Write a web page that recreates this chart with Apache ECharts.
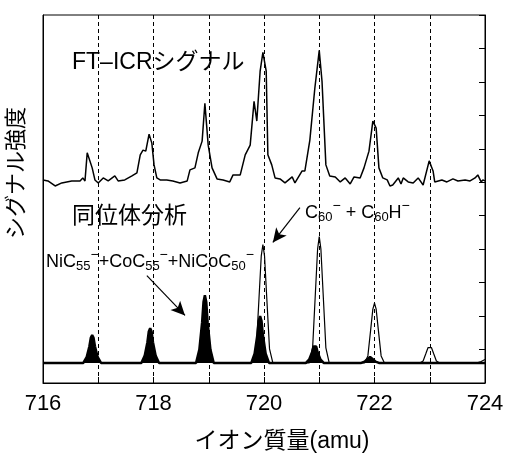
<!DOCTYPE html>
<html lang="ja">
<head>
<meta charset="UTF-8">
<title>シグナル強度</title>
<style>
html, body { margin: 0; padding: 0; background: #fff; }
#chart { width: 507px; height: 458px; }
</style>
</head>
<body>
<div id="chart"></div>
<script src="https://cdn.jsdelivr.net/npm/echarts@6/dist/echarts.min.js"></script>
<script>
// FT-ICR measured signal (x: amu, y: arbitrary units)
var ftSignal = [
  [716.00, 6.07], [716.09, 6.04], [716.22, 5.89], [716.34, 5.98], [716.52, 6.04], [716.67, 6.04],
  [716.72, 6.13], [716.76, 6.04], [716.80, 6.88], [716.83, 6.93], [716.89, 6.43], [716.94, 6.07],
  [717.00, 5.98], [717.09, 6.13], [717.18, 6.04], [717.30, 6.19], [717.36, 6.04], [717.48, 6.07],
  [717.61, 6.19], [717.70, 6.28], [717.76, 6.82], [717.81, 6.96], [717.86, 6.93], [717.92, 7.44],
  [717.97, 7.17], [718.01, 6.52], [718.06, 6.13], [718.12, 6.07], [718.24, 6.07], [718.35, 6.04],
  [718.48, 5.98], [718.61, 6.04], [718.66, 6.37], [718.75, 6.43], [718.81, 6.88], [718.88, 7.23],
  [718.93, 8.36], [718.99, 7.11], [719.06, 6.43], [719.15, 6.10], [719.26, 6.07], [719.38, 6.01],
  [719.44, 6.22], [719.57, 6.22], [719.66, 6.82], [719.75, 7.11], [719.82, 8.42], [719.87, 7.83],
  [719.93, 9.32], [719.98, 9.88], [720.04, 9.32], [720.07, 6.82], [720.14, 6.52], [720.20, 6.13],
  [720.29, 6.10], [720.38, 5.98], [720.51, 6.16], [720.56, 5.98], [720.69, 6.34], [720.74, 6.34],
  [720.83, 7.26], [720.92, 8.81], [721.00, 9.94], [721.05, 9.02], [721.12, 6.52], [721.19, 6.19],
  [721.29, 6.16], [721.38, 6.01], [721.47, 6.13], [721.56, 5.95], [721.63, 6.16], [721.74, 6.13],
  [721.81, 6.43], [721.90, 6.93], [721.97, 7.83], [722.03, 7.62], [722.08, 6.43], [722.15, 6.13],
  [722.23, 6.07], [722.28, 5.89], [722.33, 5.92], [722.43, 6.13], [722.48, 5.95], [722.52, 6.13],
  [722.61, 6.01], [722.70, 5.98], [722.79, 6.13], [722.88, 5.92], [722.99, 6.64], [723.06, 6.34],
  [723.09, 6.01], [723.22, 6.07], [723.31, 6.01], [723.42, 6.10], [723.51, 6.04], [723.64, 6.07],
  [723.73, 6.04], [723.82, 6.13], [723.87, 6.22], [723.93, 6.01], [723.96, 6.07], [724.00, 6.04]
];

// isotope analysis: NiC55- + CoC55- + NiCoC50- (filled black)
var isoMetal = [
  [716.00, 0.6],
  [716.73, 0.6], [716.79, 0.77], [716.84, 1.10], [716.865, 1.35], [716.89, 1.43], [716.915, 1.35], [716.94, 1.10], [716.99, 0.77], [717.05, 0.6],
  [717.78, 0.6], [717.84, 0.81], [717.89, 1.22], [717.915, 1.54], [717.94, 1.64], [717.965, 1.54], [717.99, 1.22], [718.04, 0.81], [718.10, 0.6],
  [718.77, 0.6], [718.83, 1.00], [718.88, 1.81], [718.905, 2.42], [718.93, 2.62], [718.955, 2.42], [718.98, 1.81], [719.03, 1.00], [719.09, 0.6],
  [719.77, 0.6], [719.83, 0.88], [719.88, 1.44], [719.905, 1.86], [719.93, 2.00], [719.955, 1.86], [719.98, 1.44], [720.03, 0.88], [720.09, 0.6],
  [720.76, 0.6], [720.82, 0.71], [720.87, 0.92], [720.895, 1.09], [720.92, 1.14], [720.945, 1.09], [720.97, 0.92], [721.02, 0.71], [721.08, 0.6],
  [721.76, 0.6], [721.82, 0.64], [721.87, 0.71], [721.895, 0.76], [721.92, 0.78], [721.945, 0.76], [721.97, 0.71], [722.02, 0.64], [722.08, 0.6],
  [724.00, 0.6]
];

// isotope analysis: C60- + C60H- (outline)
var isoC60 = [
  [719.80, 0.6], [719.86, 1.02], [719.91, 2.55], [719.95, 3.79], [719.98, 4.14], [720.01, 3.79], [720.05, 2.55], [720.10, 1.02], [720.16, 0.6],
  [720.82, 0.6], [720.88, 1.05], [720.93, 2.68], [720.97, 4.00], [721.00, 4.38], [721.03, 4.00], [721.07, 2.68], [721.12, 1.05], [721.18, 0.6],
  [721.82, 0.6], [721.88, 0.81], [721.93, 1.58], [721.97, 2.21], [722.00, 2.39], [722.03, 2.21], [722.07, 1.58], [722.12, 0.81], [722.18, 0.6],
  [722.82, 0.6], [722.88, 0.66], [722.93, 0.88], [722.97, 1.06], [723.00, 1.11], [723.03, 1.06], [723.07, 0.88], [723.12, 0.66], [723.18, 0.6],
  [723.86, 0.6], [723.93, 0.64], [724.00, 0.70]
];

var guideLines = [717, 718, 719, 720, 721, 722, 723];
var baseLevel = 0.6;

var font = 'Liberation Sans, Arial, "Noto Sans CJK JP", sans-serif';
var chart = echarts.init(document.getElementById('chart'));

var subSup = {
  s: { fontSize: 13, fontFamily: font, fill: '#000', padding: [9, 0, 0, 0] },
  p: { fontSize: 14, fontFamily: font, fill: '#000', padding: [0, 0, 13, 0] }
};

var option = {
  animation: false,
  backgroundColor: '#fff',
  textStyle: { fontFamily: font, color: '#000' },
  grid: { left: 43, right: 22, top: 15, bottom: 72, show: true, borderColor: '#000', borderWidth: 1 },
  xAxis: {
    type: 'value', min: 716, max: 724, interval: 1,
    axisLine: { lineStyle: { color: '#000', width: 1 } },
    axisTick: { inside: true, length: 6, lineStyle: { color: '#000' } },
    axisLabel: {
      fontSize: 22, color: '#000', margin: 10, fontFamily: font,
      formatter: function (v) { return v % 2 === 0 ? String(v) : ''; }
    },
    splitLine: { show: false },
    name: 'イオン質量(amu)', nameLocation: 'middle', nameGap: 47,
    nameTextStyle: { fontSize: 23, color: '#000', fontFamily: font, padding: [0, 0, 0, 36] }
  },
  yAxis: [{
    type: 'value', min: 0, max: 11, interval: 1,
    axisLine: { show: true, lineStyle: { color: '#000' } },
    axisTick: { show: false }, axisLabel: { show: false }, splitLine: { show: false }
  }, {
    type: 'value', min: 0, max: 11, interval: 1, position: 'right',
    axisLine: { show: true, lineStyle: { color: '#000' } },
    axisTick: { inside: true, length: 6, lineStyle: { color: '#000' } },
    axisLabel: { show: false }, splitLine: { show: false }
  }],
  series: [{
    name: 'guides', type: 'line', data: [], silent: true,
    markLine: {
      silent: true, symbol: 'none', label: { show: false },
      lineStyle: { color: '#000', type: [4, 3], width: 1 },
      data: guideLines.map(function (v) { return { xAxis: v }; })
    }
  }, {
    name: 'FT-ICR', type: 'line', data: ftSignal, showSymbol: false,
    lineStyle: { color: '#000', width: 1.5 }
  }, {
    name: 'NiC55', type: 'line', data: isoMetal, showSymbol: false,
    lineStyle: { color: '#000', width: 2.5 },
    areaStyle: { color: '#000', opacity: 1, origin: baseLevel }
  }, {
    name: 'C60', type: 'line', data: isoC60, showSymbol: false,
    lineStyle: { color: '#000', width: 1.2 }
  }, {
    name: 'arrows', type: 'line', data: [], silent: true,
    markLine: {
      silent: true, symbol: ['none', 'arrow'], symbolSize: [10, 14], label: { show: false },
      lineStyle: { color: '#000', type: 'solid', width: 1.2 },
      data: [
        [{ coord: [717.88, 3.21] }, { coord: [718.57, 2.02] }],
        [{ coord: [720.65, 5.24] }, { coord: [720.16, 4.20] }]
      ]
    }
  }],
  graphic: [{
    type: 'text', x: 17, y: 173, rotation: Math.PI / 2,
    style: { text: 'シグナル強度', font: '22px ' + font, fill: '#000', align: 'center', verticalAlign: 'middle' }
  }, {
    type: 'text', x: 72, y: 63,
    style: { text: 'FT–ICRシグナル', font: '23px ' + font, fill: '#000', align: 'left', verticalAlign: 'middle' }
  }, {
    type: 'text', x: 72, y: 217,
    style: { text: '同位体分析', font: '23px ' + font, fill: '#000', align: 'left', verticalAlign: 'middle' }
  }, {
    type: 'text', x: 46, y: 262,
    style: {
      text: 'NiC{s|55}{p|−}+CoC{s|55}{p|−}+NiCoC{s|50}{p|−}',
      font: '18px ' + font, fill: '#000', align: 'left', verticalAlign: 'middle', rich: subSup
    }
  }, {
    type: 'text', x: 305, y: 213,
    style: {
      text: 'C{s|60}{p|−} + C{s|60}H{p|−}',
      font: '18px ' + font, fill: '#000', align: 'left', verticalAlign: 'middle', rich: subSup
    }
  }]
};
chart.setOption(option);
</script>
</body>
</html>
